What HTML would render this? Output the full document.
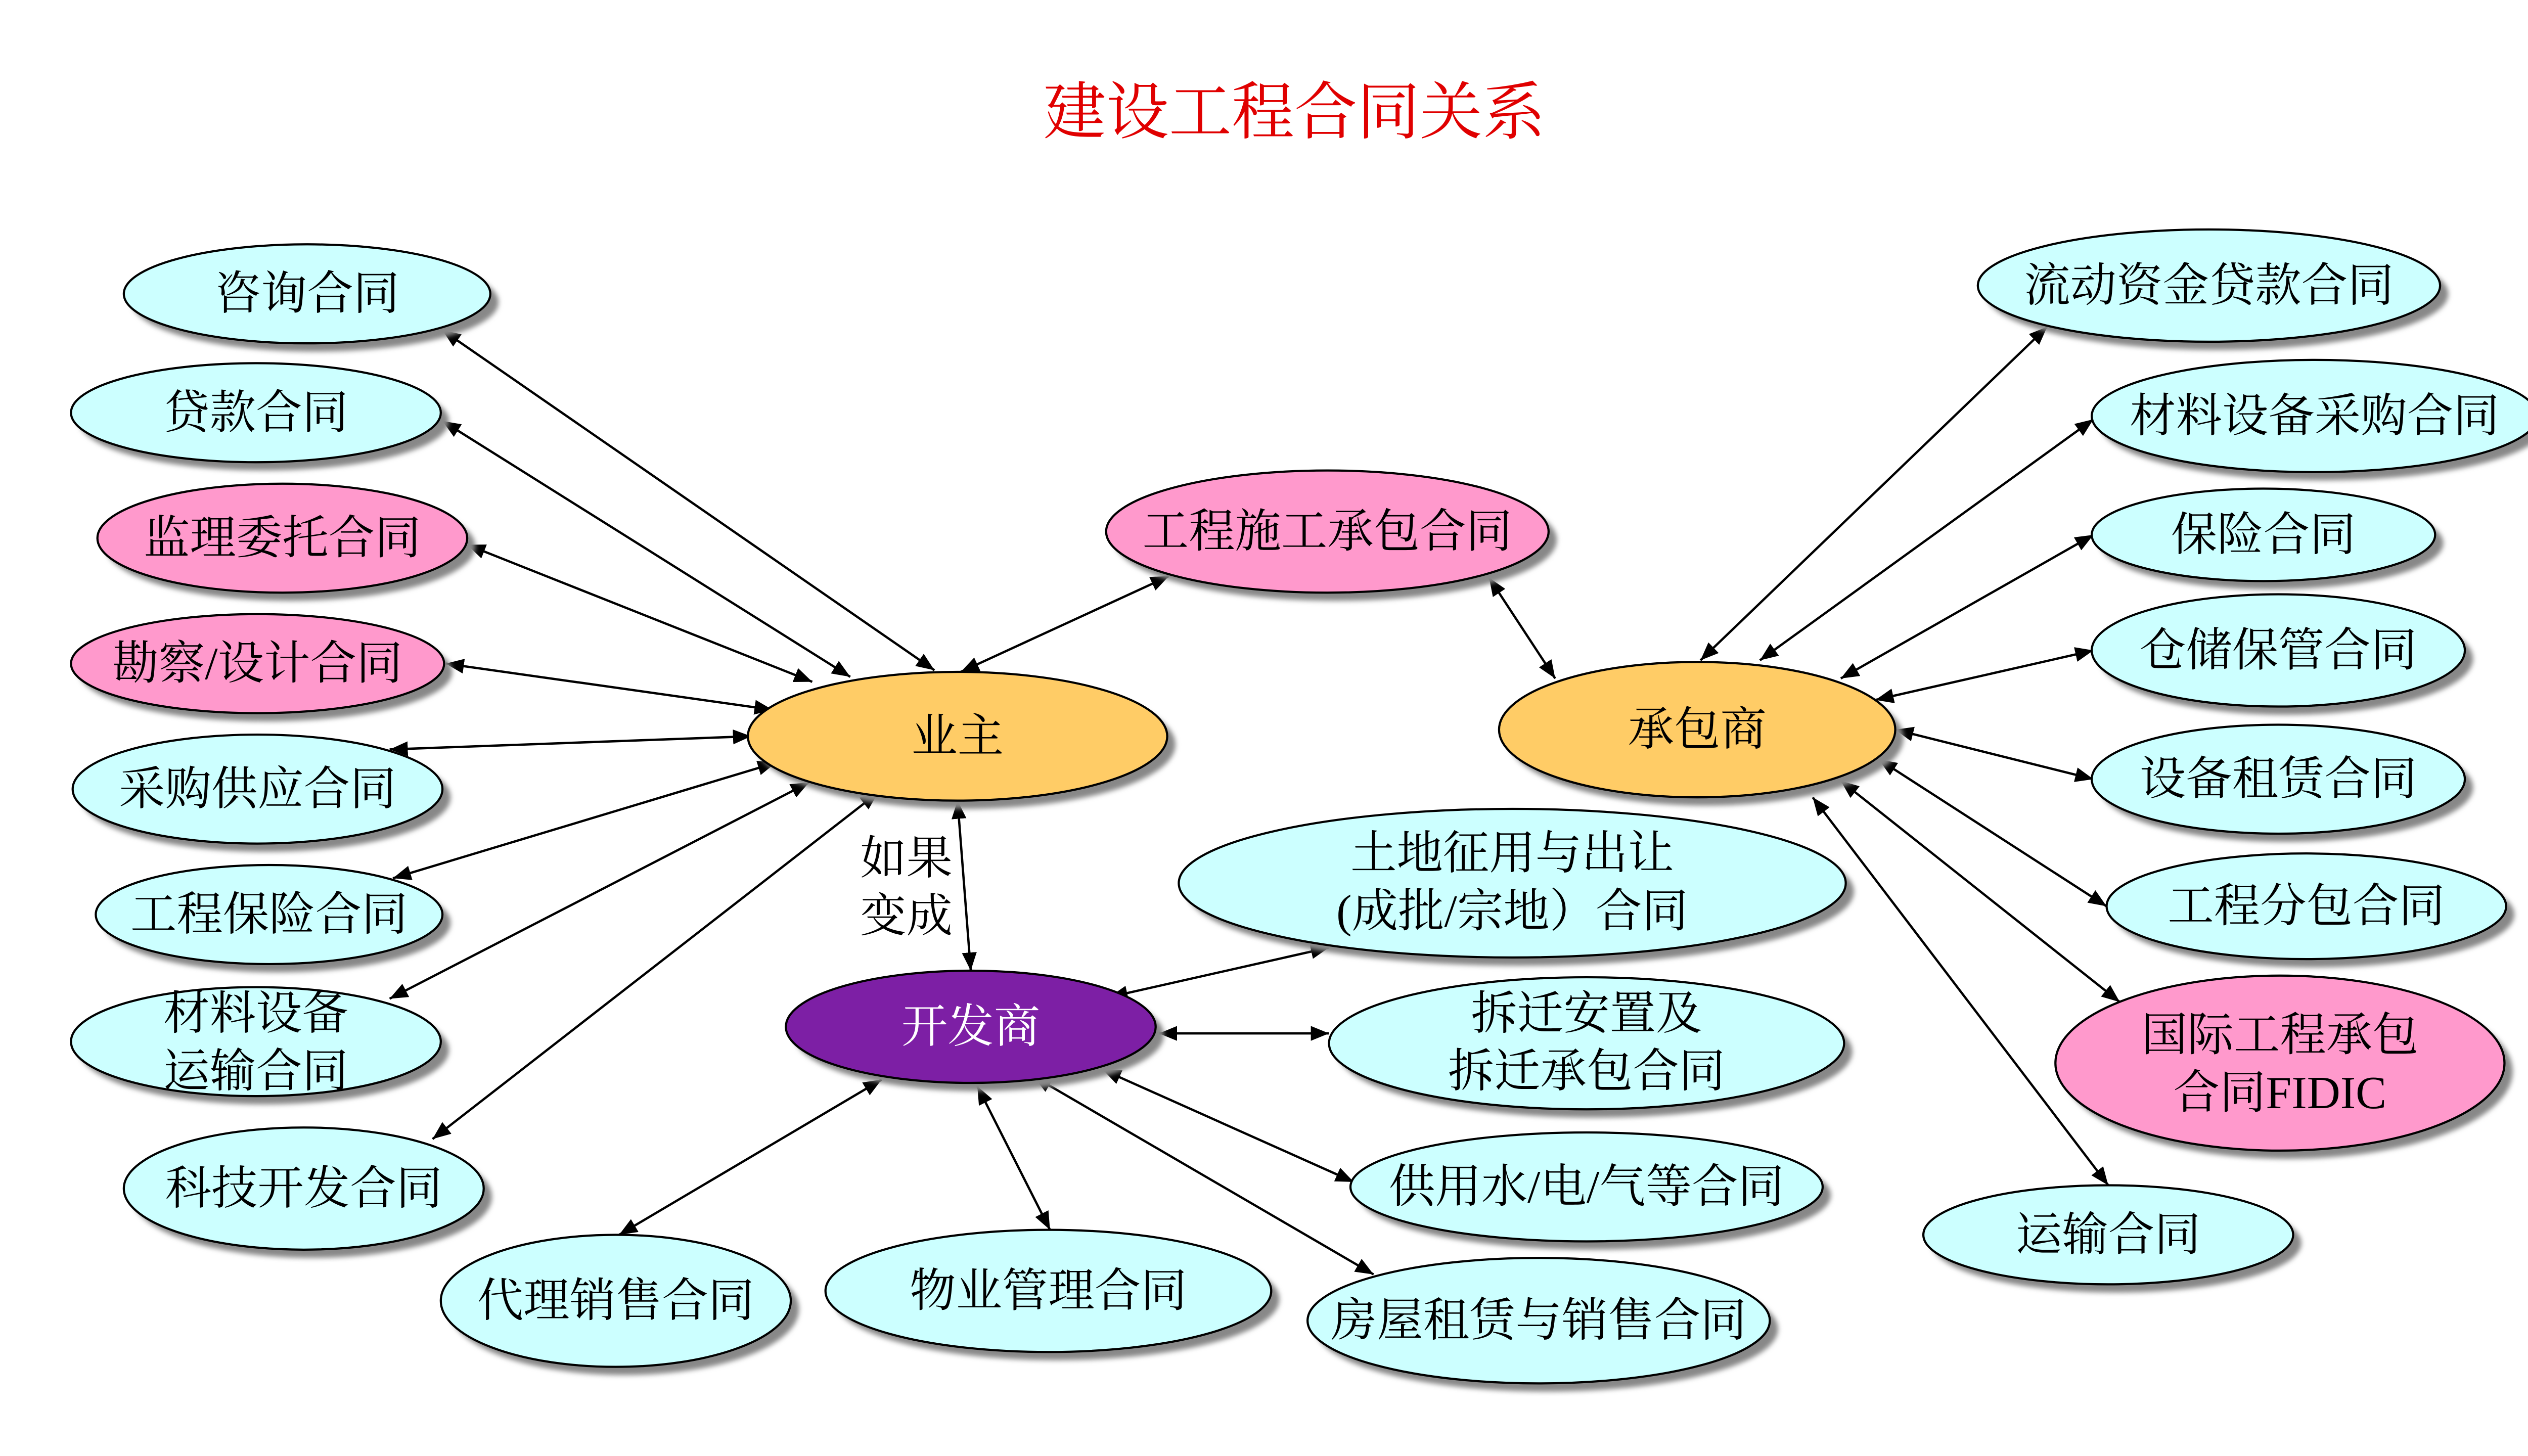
<!DOCTYPE html>
<html><head><meta charset="utf-8"><style>
html,body{margin:0;padding:0;background:#fff;overflow:hidden;}
svg{display:block;}
text{font-family:"Liberation Serif","Noto Serif CJK SC","Noto Sans CJK SC",serif;font-size:28px;fill:#000;text-anchor:middle;dominant-baseline:central;}
</style></head><body>
<svg width="5120" height="2880" viewBox="0 0 1568 882" xmlns="http://www.w3.org/2000/svg">
<defs>
<marker id="a" viewBox="0 0 10 10" refX="10" refY="5" markerWidth="11" markerHeight="9" orient="auto-start-reverse" markerUnits="userSpaceOnUse" preserveAspectRatio="none"><path d="M0,0 L10,5 L0,10 z" fill="#000"/></marker>
<filter id="b" x="-10%" y="-10%" width="130%" height="140%"><feGaussianBlur stdDeviation="1.5"/></filter>
</defs>
<text x="784" y="68" style="font-size:38px;fill:#e00000">建设工程合同关系</text>
<g stroke="#000" stroke-width="1.4" marker-start="url(#a)" marker-end="url(#a)" fill="none">
<line x1="268" y1="200" x2="566" y2="406"/>
<line x1="268" y1="255" x2="515" y2="410"/>
<line x1="283" y1="330" x2="492" y2="413"/>
<line x1="270" y1="402" x2="468" y2="430"/>
<line x1="236" y1="454" x2="455" y2="446"/>
<line x1="238" y1="532" x2="470" y2="462"/>
<line x1="236" y1="605" x2="490" y2="474"/>
<line x1="262" y1="690" x2="532" y2="480"/>
<line x1="582" y1="407" x2="708" y2="349"/>
<line x1="580" y1="485" x2="588" y2="588"/>
<line x1="672" y1="604" x2="805" y2="574"/>
<line x1="702" y1="626" x2="805" y2="626"/>
<line x1="668" y1="648" x2="820" y2="716"/>
<line x1="626" y1="652" x2="832" y2="772"/>
<line x1="592" y1="658" x2="636" y2="745"/>
<line x1="534" y1="654" x2="375" y2="748"/>
<line x1="902" y1="350" x2="942" y2="411"/>
<line x1="1030" y1="400" x2="1240" y2="198"/>
<line x1="1066" y1="400" x2="1268" y2="254"/>
<line x1="1115" y1="411" x2="1268" y2="324"/>
<line x1="1136" y1="424" x2="1268" y2="394"/>
<line x1="1148" y1="442" x2="1268" y2="472"/>
<line x1="1138" y1="460" x2="1276" y2="549"/>
<line x1="1115" y1="473" x2="1284" y2="607"/>
<line x1="1098" y1="483" x2="1277" y2="718"/>
</g>
<g fill="#888" filter="url(#b)">
<ellipse cx="191" cy="183" rx="111" ry="30"/>
<ellipse cx="160" cy="255" rx="112" ry="30"/>
<ellipse cx="176" cy="331" rx="112" ry="33"/>
<ellipse cx="161" cy="407" rx="113" ry="30"/>
<ellipse cx="161" cy="483" rx="112" ry="33"/>
<ellipse cx="168" cy="559" rx="105" ry="30"/>
<ellipse cx="160" cy="636" rx="112" ry="33"/>
<ellipse cx="189" cy="725" rx="109" ry="37"/>
<ellipse cx="378" cy="793" rx="106" ry="40"/>
<ellipse cx="640" cy="787" rx="135" ry="37"/>
<ellipse cx="937" cy="805" rx="140" ry="38"/>
<ellipse cx="585" cy="451" rx="127" ry="39"/>
<ellipse cx="593" cy="627" rx="112" ry="34"/>
<ellipse cx="809" cy="327" rx="134" ry="37"/>
<ellipse cx="1033" cy="447" rx="120" ry="41"/>
<ellipse cx="921" cy="540" rx="202" ry="45"/>
<ellipse cx="966" cy="637" rx="156" ry="40"/>
<ellipse cx="966" cy="724" rx="143" ry="33"/>
<ellipse cx="1343" cy="178" rx="140" ry="34"/>
<ellipse cx="1407" cy="257" rx="135" ry="34"/>
<ellipse cx="1376" cy="329" rx="104" ry="28"/>
<ellipse cx="1385" cy="399" rx="113" ry="34"/>
<ellipse cx="1385" cy="477" rx="113" ry="33"/>
<ellipse cx="1402" cy="554" rx="121" ry="32"/>
<ellipse cx="1386" cy="649" rx="136" ry="53"/>
<ellipse cx="1282" cy="753" rx="112" ry="30"/>
</g>
<g stroke="#000" stroke-width="1.3">
<ellipse cx="186" cy="178" rx="111" ry="30" fill="#ccffff"/>
<ellipse cx="155" cy="250" rx="112" ry="30" fill="#ccffff"/>
<ellipse cx="171" cy="326" rx="112" ry="33" fill="#ff99cc"/>
<ellipse cx="156" cy="402" rx="113" ry="30" fill="#ff99cc"/>
<ellipse cx="156" cy="478" rx="112" ry="33" fill="#ccffff"/>
<ellipse cx="163" cy="554" rx="105" ry="30" fill="#ccffff"/>
<ellipse cx="155" cy="631" rx="112" ry="33" fill="#ccffff"/>
<ellipse cx="184" cy="720" rx="109" ry="37" fill="#ccffff"/>
<ellipse cx="373" cy="788" rx="106" ry="40" fill="#ccffff"/>
<ellipse cx="635" cy="782" rx="135" ry="37" fill="#ccffff"/>
<ellipse cx="932" cy="800" rx="140" ry="38" fill="#ccffff"/>
<ellipse cx="580" cy="446" rx="127" ry="39" fill="#ffcc66"/>
<ellipse cx="588" cy="622" rx="112" ry="34" fill="#7d1fa5"/>
<ellipse cx="804" cy="322" rx="134" ry="37" fill="#ff99cc"/>
<ellipse cx="1028" cy="442" rx="120" ry="41" fill="#ffcc66"/>
<ellipse cx="916" cy="535" rx="202" ry="45" fill="#ccffff"/>
<ellipse cx="961" cy="632" rx="156" ry="40" fill="#ccffff"/>
<ellipse cx="961" cy="719" rx="143" ry="33" fill="#ccffff"/>
<ellipse cx="1338" cy="173" rx="140" ry="34" fill="#ccffff"/>
<ellipse cx="1402" cy="252" rx="135" ry="34" fill="#ccffff"/>
<ellipse cx="1371" cy="324" rx="104" ry="28" fill="#ccffff"/>
<ellipse cx="1380" cy="394" rx="113" ry="34" fill="#ccffff"/>
<ellipse cx="1380" cy="472" rx="113" ry="33" fill="#ccffff"/>
<ellipse cx="1397" cy="549" rx="121" ry="32" fill="#ccffff"/>
<ellipse cx="1381" cy="644" rx="136" ry="53" fill="#ff99cc"/>
<ellipse cx="1277" cy="748" rx="112" ry="30" fill="#ccffff"/>
</g>
<text x="186" y="178">咨询合同</text>
<text x="155" y="250">贷款合同</text>
<text x="171" y="326">监理委托合同</text>
<text x="156" y="402">勘察/设计合同</text>
<text x="156" y="478">采购供应合同</text>
<text x="163" y="554">工程保险合同</text>
<text x="155" y="614">材料设备</text>
<text x="155" y="649">运输合同</text>
<text x="184" y="720">科技开发合同</text>
<text x="373" y="788">代理销售合同</text>
<text x="635" y="782">物业管理合同</text>
<text x="932" y="800">房屋租赁与销售合同</text>
<text x="580" y="446">业主</text>
<text x="588" y="622" style="fill:#fff">开发商</text>
<text x="804" y="322">工程施工承包合同</text>
<text x="1028" y="442">承包商</text>
<text x="916" y="517">土地征用与出让</text>
<text x="916" y="552">(成批/宗地）合同</text>
<text x="961" y="614">拆迁安置及</text>
<text x="961" y="649">拆迁承包合同</text>
<text x="961" y="719">供用水/电/气等合同</text>
<text x="1338" y="173">流动资金贷款合同</text>
<text x="1402" y="252">材料设备采购合同</text>
<text x="1371" y="324">保险合同</text>
<text x="1380" y="394">仓储保管合同</text>
<text x="1380" y="472">设备租赁合同</text>
<text x="1397" y="549">工程分包合同</text>
<text x="1381" y="627">国际工程承包</text>
<text x="1381" y="662">合同FIDIC</text>
<text x="1277" y="748">运输合同</text>
<text x="549" y="520">如果</text>
<text x="549" y="555">变成</text>
</svg>
</body></html>
